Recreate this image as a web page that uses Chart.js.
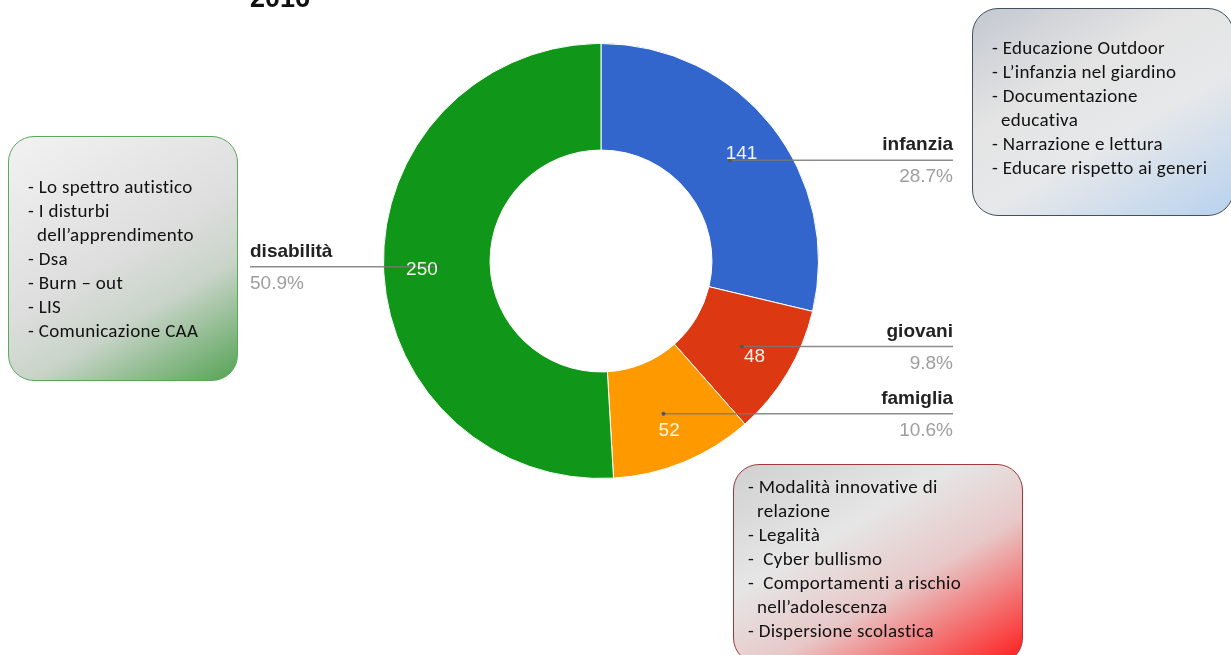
<!DOCTYPE html>
<html>
<head>
<meta charset="utf-8">
<script src="https://cdn.jsdelivr.net/npm/chart.js@4"></script>
<style>
  html, body { margin: 0; padding: 0; background: #fff; }
  #wrap { position: relative; width: 1231px; height: 655px; overflow: hidden; }
  #c { position: absolute; left: 0; top: 0; }
  .title { position: absolute; left: 250px; top: -15px; font: bold 27px "Liberation Sans", Arial, sans-serif; line-height: 26px; color: #111; }
  .box { position: absolute; box-sizing: border-box; border-radius: 26px; font-family: Carlito, Lato, "Open Sans", sans-serif; font-size: 19px; letter-spacing: 0.3px; line-height: 24px; color: #111; white-space: nowrap; }
  .box div.c { padding-left: 9px; }
  #bInf { left: 972px; top: 8px; width: 262px; height: 208px; border: 1.5px solid #44505c; padding: 27px 0 0 19px;
    background: linear-gradient(150deg, #c3c8d0 0%, #e4e4e4 35%, #e6e8ea 60%, #b8d2ee 100%); }
  #bDis { left: 8px; top: 136px; width: 230px; height: 245px; border: 1.5px solid #5aa85a; padding: 38px 0 0 19px;
    background: linear-gradient(150deg, #f2f2f2 0%, #dedede 48%, #c9d4c9 68%, #55a355 100%); }
  #bFam { left: 733px; top: 464px; width: 290px; height: 200px; border: 1.5px solid #a03a3a; padding: 10px 0 0 14px;
    background: linear-gradient(150deg, #d0d0d0 0%, #e6e6e6 35%, #e8c8c8 60%, #ff1a1a 100%); }
</style>
</head>
<body>
<div id="wrap">
  <canvas id="c" width="1231" height="655"></canvas>
  <div class="title">2016</div>
  <div class="box" id="bInf">
    <div>- Educazione Outdoor</div>
    <div>- L’infanzia nel giardino</div>
    <div>- Documentazione</div>
    <div class="c">educativa</div>
    <div>- Narrazione e lettura</div>
    <div>- Educare rispetto ai generi</div>
  </div>
  <div class="box" id="bDis">
    <div>- Lo spettro autistico</div>
    <div>- I disturbi</div>
    <div class="c">dell’apprendimento</div>
    <div>- Dsa</div>
    <div>- Burn – out</div>
    <div>- LIS</div>
    <div>- Comunicazione CAA</div>
  </div>
  <div class="box" id="bFam">
    <div>- Modalità innovative di</div>
    <div class="c">relazione</div>
    <div>- Legalità</div>
    <div>-&nbsp; Cyber bullismo</div>
    <div>-&nbsp; Comportamenti a rischio</div>
    <div class="c">nell’adolescenza</div>
    <div>- Dispersione scolastica</div>
  </div>
</div>
<script>
const categories = ['infanzia', 'giovani', 'famiglia', 'disabilità'];
const values = [141, 48, 52, 250];
const sliceColors = ['#3366CC', '#DC3912', '#FF9900', '#109618'];

const total = values.reduce((a, b) => a + b, 0);
const percents = values.map(v => (v / total * 100).toFixed(1) + '%');

const calloutPlugin = {
  id: 'callouts',
  afterDatasetsDraw(chart) {
    const ctx = chart.ctx;
    const area = chart.chartArea;
    const meta = chart.getDatasetMeta(0);
    ctx.save();
    meta.data.forEach((arc, i) => {
      const p = arc.getProps(['x', 'y', 'startAngle', 'endAngle', 'innerRadius', 'outerRadius'], true);
      const mid = (p.startAngle + p.endAngle) / 2;
      const rLine = (p.innerRadius + p.outerRadius) / 2;
      const sx = p.x + rLine * Math.cos(mid);
      const sy = p.y + rLine * Math.sin(mid) + 1;
      const right = Math.cos(mid) >= 0;
      const ex = right ? area.right + 134 : area.left - 133;
      ctx.strokeStyle = 'rgba(120,120,120,0.85)';
      ctx.lineWidth = 1.5;
      ctx.beginPath();
      ctx.moveTo(sx, sy);
      ctx.lineTo(ex, sy);
      ctx.stroke();
      ctx.fillStyle = '#555';
      ctx.beginPath();
      ctx.arc(sx, sy, 2, 0, Math.PI * 2);
      ctx.fill();
      ctx.textAlign = right ? 'right' : 'left';
      ctx.textBaseline = 'middle';
      ctx.font = 'bold 19px "Liberation Sans", Arial, sans-serif';
      ctx.fillStyle = '#222';
      ctx.fillText(categories[i], ex, sy - 15);
      ctx.font = '19px "Liberation Sans", Arial, sans-serif';
      ctx.fillStyle = '#9e9e9e';
      ctx.fillText(percents[i], ex, sy + 17);
    });
    meta.data.forEach((arc, i) => {
      const p = arc.getProps(['x', 'y', 'startAngle', 'endAngle', 'innerRadius', 'outerRadius'], true);
      const mid = (p.startAngle + p.endAngle) / 2;
      const r = p.innerRadius + 0.64 * (p.outerRadius - p.innerRadius);
      ctx.textAlign = 'center';
      ctx.textBaseline = 'middle';
      ctx.font = '19px "Liberation Sans", Arial, sans-serif';
      ctx.fillStyle = 'rgba(255,255,255,0.92)';
      ctx.fillText(String(values[i]), p.x + r * Math.cos(mid), p.y + r * Math.sin(mid) + 4);
    });
    ctx.restore();
  }
};

new Chart(document.getElementById('c'), {
  type: 'doughnut',
  data: {
    labels: categories,
    datasets: [{
      data: values,
      backgroundColor: sliceColors,
      borderColor: '#ffffff',
      borderWidth: 1
    }]
  },
  options: {
    responsive: false,
    animation: false,
    cutout: '51%',
    layout: { padding: { top: 43, bottom: 176, left: 383, right: 412 } },
    plugins: { legend: { display: false }, tooltip: { enabled: false }, title: { display: false } }
  },
  plugins: [calloutPlugin]
});
</script>
</body>
</html>
